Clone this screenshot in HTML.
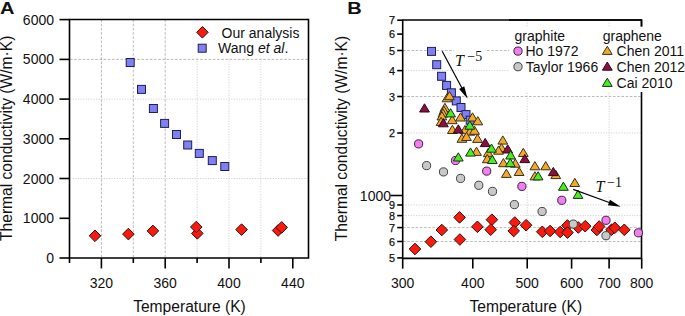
<!DOCTYPE html>
<html><head><meta charset="utf-8"><style>
html,body{margin:0;padding:0;background:#fff;width:685px;height:316px;overflow:hidden}
svg{display:block}
text{font-family:"Liberation Sans",sans-serif;fill:#111}
.tl{font-size:14px}
.lg{font-size:14px}
.at{font-size:15.6px}
.pl{font-size:17px;font-weight:bold}
.sl{font-size:10.8px;stroke:#111;stroke-width:0.25}
.tt{font-family:"Liberation Serif",serif;font-style:italic;font-size:16px}
.ts{font-family:"Liberation Serif",serif;font-size:14px}
.ax{stroke:#000;stroke-width:1.6;fill:none}
.ar{stroke:#000;stroke-width:1.2}
.gd{stroke:#aaa;stroke-width:0.8;stroke-dasharray:2.6 1.6}
.gl{stroke:#c8c8c8;stroke-width:0.8;stroke-dasharray:1.2 1.4}
.dm{fill:#f81a0c;stroke:#301010;stroke-width:1}
.sq{fill:#7f7ff8;stroke:#202050;stroke-width:1}
.pk{fill:#f07ff0;stroke:#402040;stroke-width:1}
.gr{fill:#c8c8c8;stroke:#404040;stroke-width:1}
.or{fill:#f2a92a;stroke:#3a3020;stroke-width:1;stroke-linejoin:round}
.mr{fill:#8a1040;stroke:#300818;stroke-width:1;stroke-linejoin:round}
.gn{fill:#48ee1e;stroke:#1a301a;stroke-width:1;stroke-linejoin:round}
</style></head><body>
<svg width="685" height="316" viewBox="0 0 685 316">
<line class="gd" x1="101.4" y1="19.5" x2="101.4" y2="258"/>
<line class="gd" x1="133.3" y1="19.5" x2="133.3" y2="258"/>
<line class="gd" x1="165.2" y1="19.5" x2="165.2" y2="258"/>
<line class="gl" x1="197.1" y1="19.5" x2="197.1" y2="258"/>
<line class="gl" x1="229.0" y1="19.5" x2="229.0" y2="258"/>
<line class="gl" x1="260.9" y1="19.5" x2="260.9" y2="258"/>
<line class="gd" x1="70" y1="59.4" x2="308.5" y2="59.4"/>
<line class="gl" x1="70" y1="99.1" x2="308.5" y2="99.1"/>
<line class="gl" x1="70" y1="178.5" x2="308.5" y2="178.5"/>
<path class="ax" d="M69.5 19.5H308.5V258H69.5Z"/>
<line class="ax" x1="59.5" y1="258.0" x2="69.5" y2="258.0"/>
<text class="tl" x="54" y="263.0" text-anchor="end">0</text>
<line class="ax" x1="59.5" y1="218.3" x2="69.5" y2="218.3"/>
<text class="tl" x="54" y="223.3" text-anchor="end">1000</text>
<line class="ax" x1="59.5" y1="178.5" x2="69.5" y2="178.5"/>
<text class="tl" x="54" y="183.5" text-anchor="end">2000</text>
<line class="ax" x1="59.5" y1="138.8" x2="69.5" y2="138.8"/>
<text class="tl" x="54" y="143.8" text-anchor="end">3000</text>
<line class="ax" x1="59.5" y1="99.1" x2="69.5" y2="99.1"/>
<text class="tl" x="54" y="104.1" text-anchor="end">4000</text>
<line class="ax" x1="59.5" y1="59.4" x2="69.5" y2="59.4"/>
<text class="tl" x="54" y="64.4" text-anchor="end">5000</text>
<line class="ax" x1="59.5" y1="19.6" x2="69.5" y2="19.6"/>
<text class="tl" x="54" y="24.6" text-anchor="end">6000</text>
<line class="ax" x1="69.5" y1="258" x2="69.5" y2="263"/>
<line class="ax" x1="101.4" y1="258" x2="101.4" y2="268.4"/>
<text class="tl" x="101.4" y="287.6" text-anchor="middle">320</text>
<line class="ax" x1="133.3" y1="258" x2="133.3" y2="263"/>
<line class="ax" x1="165.2" y1="258" x2="165.2" y2="268.4"/>
<text class="tl" x="165.2" y="287.6" text-anchor="middle">360</text>
<line class="ax" x1="197.1" y1="258" x2="197.1" y2="263"/>
<line class="ax" x1="229.0" y1="258" x2="229.0" y2="268.4"/>
<text class="tl" x="229.0" y="287.6" text-anchor="middle">400</text>
<line class="ax" x1="260.9" y1="258" x2="260.9" y2="263"/>
<line class="ax" x1="292.8" y1="258" x2="292.8" y2="268.4"/>
<text class="tl" x="292.8" y="287.6" text-anchor="middle">440</text>
<rect class="sq" x="126.2" y="58.5" width="8" height="8"/>
<rect class="sq" x="137.5" y="85.4" width="8" height="8"/>
<rect class="sq" x="149.4" y="104.5" width="8" height="8"/>
<rect class="sq" x="160.6" y="119.4" width="8" height="8"/>
<rect class="sq" x="172.5" y="130.5" width="8" height="8"/>
<rect class="sq" x="183.7" y="141.0" width="8" height="8"/>
<rect class="sq" x="195.3" y="149.4" width="8" height="8"/>
<rect class="sq" x="208.3" y="156.6" width="8" height="8"/>
<rect class="sq" x="220.8" y="162.5" width="8" height="8"/>
<path class="dm" d="M95.0 230.0L100.8 235.8L95.0 241.6L89.2 235.8Z"/>
<path class="dm" d="M128.4 228.3L134.2 234.1L128.4 239.9L122.6 234.1Z"/>
<path class="dm" d="M152.9 225.1L158.7 230.9L152.9 236.7L147.1 230.9Z"/>
<path class="dm" d="M197.3 227.6L203.1 233.4L197.3 239.2L191.5 233.4Z"/>
<path class="dm" d="M196.3 221.2L202.1 227.0L196.3 232.8L190.5 227.0Z"/>
<path class="dm" d="M241.6 223.8L247.4 229.6L241.6 235.4L235.8 229.6Z"/>
<path class="dm" d="M278.1 224.7L283.9 230.5L278.1 236.3L272.3 230.5Z"/>
<path class="dm" d="M281.7 221.6L287.5 227.4L281.7 233.2L275.9 227.4Z"/>
<rect x="192" y="22" width="114" height="35" fill="#fff"/>
<path class="dm" d="M202.4 26.5L208.2 32.3L202.4 38.1L196.6 32.3Z"/>
<rect class="sq" x="198.2" y="44.2" width="8" height="8"/>
<text class="lg" x="221.6" y="37.6">Our analysis</text>
<text class="lg" x="218" y="53.4">Wang <tspan font-style="italic">et al</tspan>.</text>
<text class="pl" transform="translate(0 13.8) scale(1.18 1)">A</text>
<text class="at" x="189.5" y="312.3" text-anchor="middle">Temperature (K)</text>
<text class="at" transform="translate(12.2 138.3) rotate(-90)" text-anchor="middle">Thermal conductivity (W/m·K)</text>
<line class="gl" x1="527.2" y1="20" x2="527.2" y2="258"/>
<line class="gl" x1="609.1" y1="20" x2="609.1" y2="258"/>
<line class="gd" x1="403" y1="50.5" x2="641.5" y2="50.5"/>
<line class="gl" x1="403" y1="70.6" x2="641.5" y2="70.6"/>
<line class="gd" x1="403" y1="96.5" x2="641.5" y2="96.5"/>
<line class="gl" x1="403" y1="133.0" x2="641.5" y2="133.0"/>
<line class="gl" x1="403" y1="205.0" x2="641.5" y2="205.0"/>
<line class="gl" x1="403" y1="215.6" x2="641.5" y2="215.6"/>
<line class="gd" x1="403" y1="227.6" x2="641.5" y2="227.6"/>
<line class="gd" x1="403" y1="241.5" x2="641.5" y2="241.5"/>
<path class="ax" d="M402.7 20H641.5V258.4H402.7Z"/>
<line class="ax" x1="397.2" y1="257.9" x2="402.7" y2="257.9"/>
<text class="sl" x="395" y="261.9" text-anchor="end">5</text>
<line class="ax" x1="397.2" y1="241.5" x2="402.7" y2="241.5"/>
<text class="sl" x="395" y="245.5" text-anchor="end">6</text>
<line class="ax" x1="397.2" y1="227.6" x2="402.7" y2="227.6"/>
<text class="sl" x="395" y="231.6" text-anchor="end">7</text>
<line class="ax" x1="397.2" y1="215.6" x2="402.7" y2="215.6"/>
<text class="sl" x="395" y="219.6" text-anchor="end">8</text>
<line class="ax" x1="397.2" y1="205.0" x2="402.7" y2="205.0"/>
<text class="sl" x="395" y="209.0" text-anchor="end">9</text>
<line class="ax" x1="397.2" y1="133.0" x2="402.7" y2="133.0"/>
<text class="sl" x="395" y="137.0" text-anchor="end">2</text>
<line class="ax" x1="397.2" y1="96.5" x2="402.7" y2="96.5"/>
<text class="sl" x="395" y="100.5" text-anchor="end">3</text>
<line class="ax" x1="397.2" y1="70.6" x2="402.7" y2="70.6"/>
<text class="sl" x="395" y="74.6" text-anchor="end">4</text>
<line class="ax" x1="397.2" y1="50.5" x2="402.7" y2="50.5"/>
<text class="sl" x="395" y="54.5" text-anchor="end">5</text>
<line class="ax" x1="397.2" y1="34.1" x2="402.7" y2="34.1"/>
<text class="sl" x="395" y="38.1" text-anchor="end">6</text>
<line class="ax" x1="397.2" y1="20.2" x2="402.7" y2="20.2"/>
<text class="sl" x="395" y="24.2" text-anchor="end">7</text>
<line class="ax" x1="390.4" y1="195.5" x2="402.7" y2="195.5"/>
<text class="tl" x="391" y="200.5" text-anchor="end">1000</text>
<line class="ax" x1="402.7" y1="258.4" x2="402.7" y2="268.6"/>
<text class="tl" x="402.7" y="287.6" text-anchor="middle">300</text>
<line class="ax" x1="472.8" y1="258.4" x2="472.8" y2="268.6"/>
<text class="tl" x="472.8" y="287.6" text-anchor="middle">400</text>
<line class="ax" x1="527.2" y1="258.4" x2="527.2" y2="268.6"/>
<text class="tl" x="527.2" y="287.6" text-anchor="middle">500</text>
<line class="ax" x1="571.6" y1="258.4" x2="571.6" y2="268.6"/>
<text class="tl" x="571.6" y="287.6" text-anchor="middle">600</text>
<line class="ax" x1="609.1" y1="258.4" x2="609.1" y2="268.6"/>
<text class="tl" x="609.1" y="287.6" text-anchor="middle">700</text>
<line class="ax" x1="641.7" y1="258.4" x2="641.7" y2="268.6"/>
<text class="tl" x="641.7" y="287.6" text-anchor="middle">800</text>
<rect x="509" y="26.5" width="176" height="65.5" fill="#fff"/>
<rect class="sq" x="427.5" y="47.4" width="8" height="8"/>
<rect class="sq" x="432.7" y="60.7" width="8" height="8"/>
<rect class="sq" x="437.6" y="72.3" width="8" height="8"/>
<rect class="sq" x="442.6" y="81.4" width="8" height="8"/>
<rect class="sq" x="447.4" y="88.8" width="8" height="8"/>
<rect class="sq" x="452.3" y="96.9" width="8" height="8"/>
<rect class="sq" x="457.0" y="103.5" width="8" height="8"/>
<rect class="sq" x="462.0" y="110.6" width="8" height="8"/>
<rect class="sq" x="466.2" y="116.2" width="8" height="8"/>
<path class="dm" d="M415.0 243.2L420.8 249.0L415.0 254.8L409.2 249.0Z"/>
<path class="dm" d="M430.9 235.9L436.7 241.7L430.9 247.5L425.1 241.7Z"/>
<path class="dm" d="M441.8 224.2L447.6 230.0L441.8 235.8L436.0 230.0Z"/>
<path class="dm" d="M459.6 211.6L465.4 217.4L459.6 223.2L453.8 217.4Z"/>
<path class="dm" d="M459.9 233.7L465.7 239.5L459.9 245.3L454.1 239.5Z"/>
<path class="dm" d="M477.4 221.0L483.2 226.8L477.4 232.6L471.6 226.8Z"/>
<path class="dm" d="M491.9 213.9L497.7 219.7L491.9 225.5L486.1 219.7Z"/>
<path class="dm" d="M490.7 223.9L496.5 229.7L490.7 235.5L484.9 229.7Z"/>
<path class="dm" d="M514.8 216.7L520.6 222.5L514.8 228.3L509.0 222.5Z"/>
<path class="dm" d="M513.7 225.2L519.5 231.0L513.7 236.8L507.9 231.0Z"/>
<path class="dm" d="M526.1 219.4L531.9 225.2L526.1 231.0L520.3 225.2Z"/>
<path class="dm" d="M542.3 226.0L548.1 231.8L542.3 237.6L536.5 231.8Z"/>
<path class="dm" d="M550.1 225.2L555.9 231.0L550.1 236.8L544.3 231.0Z"/>
<path class="dm" d="M560.2 226.2L566.0 232.0L560.2 237.8L554.4 232.0Z"/>
<path class="dm" d="M567.4 219.7L573.2 225.5L567.4 231.3L561.6 225.5Z"/>
<path class="dm" d="M567.5 226.8L573.3 232.6L567.5 238.4L561.7 232.6Z"/>
<path class="dm" d="M578.3 221.7L584.1 227.5L578.3 233.3L572.5 227.5Z"/>
<path class="dm" d="M585.2 220.4L591.0 226.2L585.2 232.0L579.4 226.2Z"/>
<path class="dm" d="M596.9 224.2L602.7 230.0L596.9 235.8L591.1 230.0Z"/>
<path class="dm" d="M599.2 220.7L605.0 226.5L599.2 232.3L593.4 226.5Z"/>
<path class="dm" d="M611.5 223.9L617.3 229.7L611.5 235.5L605.7 229.7Z"/>
<path class="dm" d="M614.8 222.0L620.6 227.8L614.8 233.6L609.0 227.8Z"/>
<path class="dm" d="M624.3 224.0L630.1 229.8L624.3 235.6L618.5 229.8Z"/>
<circle class="gr" cx="426.6" cy="165.6" r="4.1"/>
<circle class="gr" cx="443.5" cy="171.9" r="4.1"/>
<circle class="gr" cx="460.6" cy="178.4" r="4.1"/>
<circle class="gr" cx="478.8" cy="185.3" r="4.1"/>
<circle class="gr" cx="492.5" cy="191.4" r="4.1"/>
<circle class="gr" cx="514.4" cy="204.6" r="4.1"/>
<circle class="gr" cx="542.1" cy="211.5" r="4.1"/>
<circle class="gr" cx="573.3" cy="224.1" r="4.1"/>
<circle class="gr" cx="606.0" cy="235.7" r="4.1"/>
<circle class="pk" cx="418.6" cy="143.9" r="4.1"/>
<circle class="pk" cx="455.5" cy="160.5" r="4.1"/>
<circle class="pk" cx="486.7" cy="171.1" r="4.1"/>
<circle class="pk" cx="521.9" cy="186.4" r="4.1"/>
<circle class="pk" cx="561.8" cy="200.3" r="4.1"/>
<circle class="pk" cx="606.0" cy="220.3" r="4.1"/>
<circle class="pk" cx="638.4" cy="232.8" r="4.1"/>
<path class="or" d="M447.0 93.6L451.9 101.8L442.1 101.8Z"/>
<path class="or" d="M449.5 91.5L454.4 99.7L444.6 99.7Z"/>
<path class="or" d="M444.9 103.3L449.8 111.5L440.0 111.5Z"/>
<path class="or" d="M443.9 106.1L448.8 114.3L439.0 114.3Z"/>
<path class="or" d="M442.9 108.9L447.8 117.1L438.0 117.1Z"/>
<path class="or" d="M441.9 111.7L446.8 119.9L437.0 119.9Z"/>
<path class="or" d="M441.1 117.3L446.0 125.5L436.2 125.5Z"/>
<path class="or" d="M452.2 115.5L457.1 123.7L447.3 123.7Z"/>
<path class="or" d="M460.5 112.8L465.4 121.0L455.6 121.0Z"/>
<path class="or" d="M472.5 112.8L477.4 121.0L467.6 121.0Z"/>
<path class="or" d="M477.8 116.6L482.7 124.8L472.9 124.8Z"/>
<path class="or" d="M452.4 125.3L457.3 133.5L447.5 133.5Z"/>
<path class="or" d="M465.0 125.5L469.9 133.7L460.1 133.7Z"/>
<path class="or" d="M470.0 127.0L474.9 135.2L465.1 135.2Z"/>
<path class="or" d="M474.5 126.1L479.4 134.3L469.6 134.3Z"/>
<path class="or" d="M461.9 134.1L466.8 142.3L457.0 142.3Z"/>
<path class="or" d="M466.5 132.3L471.4 140.5L461.6 140.5Z"/>
<path class="or" d="M477.5 134.2L482.4 142.4L472.6 142.4Z"/>
<path class="or" d="M476.5 147.2L481.4 155.4L471.6 155.4Z"/>
<path class="or" d="M502.8 135.9L507.7 144.1L497.9 144.1Z"/>
<path class="or" d="M501.5 143.5L506.4 151.7L496.6 151.7Z"/>
<path class="or" d="M498.5 146.0L503.4 154.2L493.6 154.2Z"/>
<path class="or" d="M488.2 148.5L493.1 156.7L483.3 156.7Z"/>
<path class="or" d="M487.3 154.5L492.2 162.7L482.4 162.7Z"/>
<path class="or" d="M503.4 158.5L508.3 166.7L498.5 166.7Z"/>
<path class="or" d="M515.3 159.0L520.2 167.2L510.4 167.2Z"/>
<path class="or" d="M506.4 169.2L511.3 177.4L501.5 177.4Z"/>
<path class="or" d="M519.1 167.3L524.0 175.5L514.2 175.5Z"/>
<path class="or" d="M523.3 148.3L528.2 156.5L518.4 156.5Z"/>
<path class="or" d="M534.9 161.6L539.8 169.8L530.0 169.8Z"/>
<path class="or" d="M545.7 161.6L550.6 169.8L540.8 169.8Z"/>
<path class="or" d="M555.8 170.4L560.7 178.6L550.9 178.6Z"/>
<path class="or" d="M534.9 171.7L539.8 179.9L530.0 179.9Z"/>
<path class="or" d="M574.8 178.3L579.7 186.5L569.9 186.5Z"/>
<path class="mr" d="M424.5 103.8L429.4 112.0L419.6 112.0Z"/>
<path class="mr" d="M443.4 118.6L448.3 126.8L438.5 126.8Z"/>
<path class="mr" d="M458.3 124.8L463.2 133.0L453.4 133.0Z"/>
<path class="mr" d="M485.2 138.4L490.1 146.6L480.3 146.6Z"/>
<path class="mr" d="M507.7 144.8L512.6 153.0L502.8 153.0Z"/>
<path class="mr" d="M524.8 154.4L529.7 162.6L519.9 162.6Z"/>
<path class="mr" d="M553.3 167.4L558.2 175.6L548.4 175.6Z"/>
<path class="gn" d="M450.6 108.7L455.5 116.9L445.7 116.9Z"/>
<path class="gn" d="M469.8 121.0L474.7 129.2L464.9 129.2Z"/>
<path class="gn" d="M470.5 147.9L475.4 156.1L465.6 156.1Z"/>
<path class="gn" d="M458.3 152.8L463.2 161.0L453.4 161.0Z"/>
<path class="gn" d="M491.5 144.0L496.4 152.2L486.6 152.2Z"/>
<path class="gn" d="M492.3 155.3L497.2 163.5L487.4 163.5Z"/>
<path class="gn" d="M510.6 150.8L515.5 159.0L505.7 159.0Z"/>
<path class="gn" d="M510.3 158.5L515.2 166.7L505.4 166.7Z"/>
<path class="gn" d="M538.1 171.7L543.0 179.9L533.2 179.9Z"/>
<path class="gn" d="M563.4 182.1L568.3 190.3L558.5 190.3Z"/>
<path class="gn" d="M578.0 190.2L582.9 198.4L573.1 198.4Z"/>
<rect x="454" y="46" width="31" height="22" fill="#fff"/>
<rect x="594" y="176" width="30" height="20" fill="#fff"/>
<line class="ar" x1="442.2" y1="51.3" x2="462.17" y2="88.56"/><path d="M467.6 98.7L459.14 89.05L464.25 86.31Z" fill="#000"/>
<line class="ar" x1="573.2" y1="189.4" x2="609.89" y2="202.76"/><path d="M620.7 206.7L607.96 205.15L609.95 199.70Z" fill="#000"/>
<text class="tt" x="455" y="65.8">T</text><text class="ts" x="467.3" y="61">−5</text>
<text class="tt" x="595.5" y="191.5">T</text><text class="ts" x="607" y="186.6">−1</text>
<text class="lg" x="514.5" y="40.5">graphite</text>
<text class="lg" x="602.7" y="41">graphene</text>
<circle class="pk" cx="518.0" cy="51.1" r="4.1"/>
<circle class="gr" cx="518.0" cy="66.7" r="4.1"/>
<text class="lg" x="525.5" y="56">Ho 1972</text>
<text class="lg" x="525.8" y="71.7">Taylor 1966</text>
<path class="or" d="M607.3 46.2L612.2 54.4L602.4 54.4Z"/>
<path class="mr" d="M607.3 62.0L612.2 70.2L602.4 70.2Z"/>
<path class="gn" d="M607.3 78.2L612.2 86.4L602.4 86.4Z"/>
<text class="lg" x="616.6" y="56.2">Chen 2011</text>
<text class="lg" x="616.6" y="72.3">Chen 2012</text>
<text class="lg" x="616.6" y="88.3">Cai 2010</text>
<line class="ax" x1="641.5" y1="19.5" x2="641.5" y2="26.5"/>
<line class="ax" x1="509" y1="20" x2="641.5" y2="20"/>
<text class="pl" transform="translate(347.2 13.9) scale(1.18 1)">B</text>
<text class="at" x="525.8" y="312.3" text-anchor="middle">Temperature (K)</text>
<text class="at" transform="translate(347 138.5) rotate(-90)" text-anchor="middle">Thermal conductivity (W/m·K)</text>
</svg>
</body></html>
